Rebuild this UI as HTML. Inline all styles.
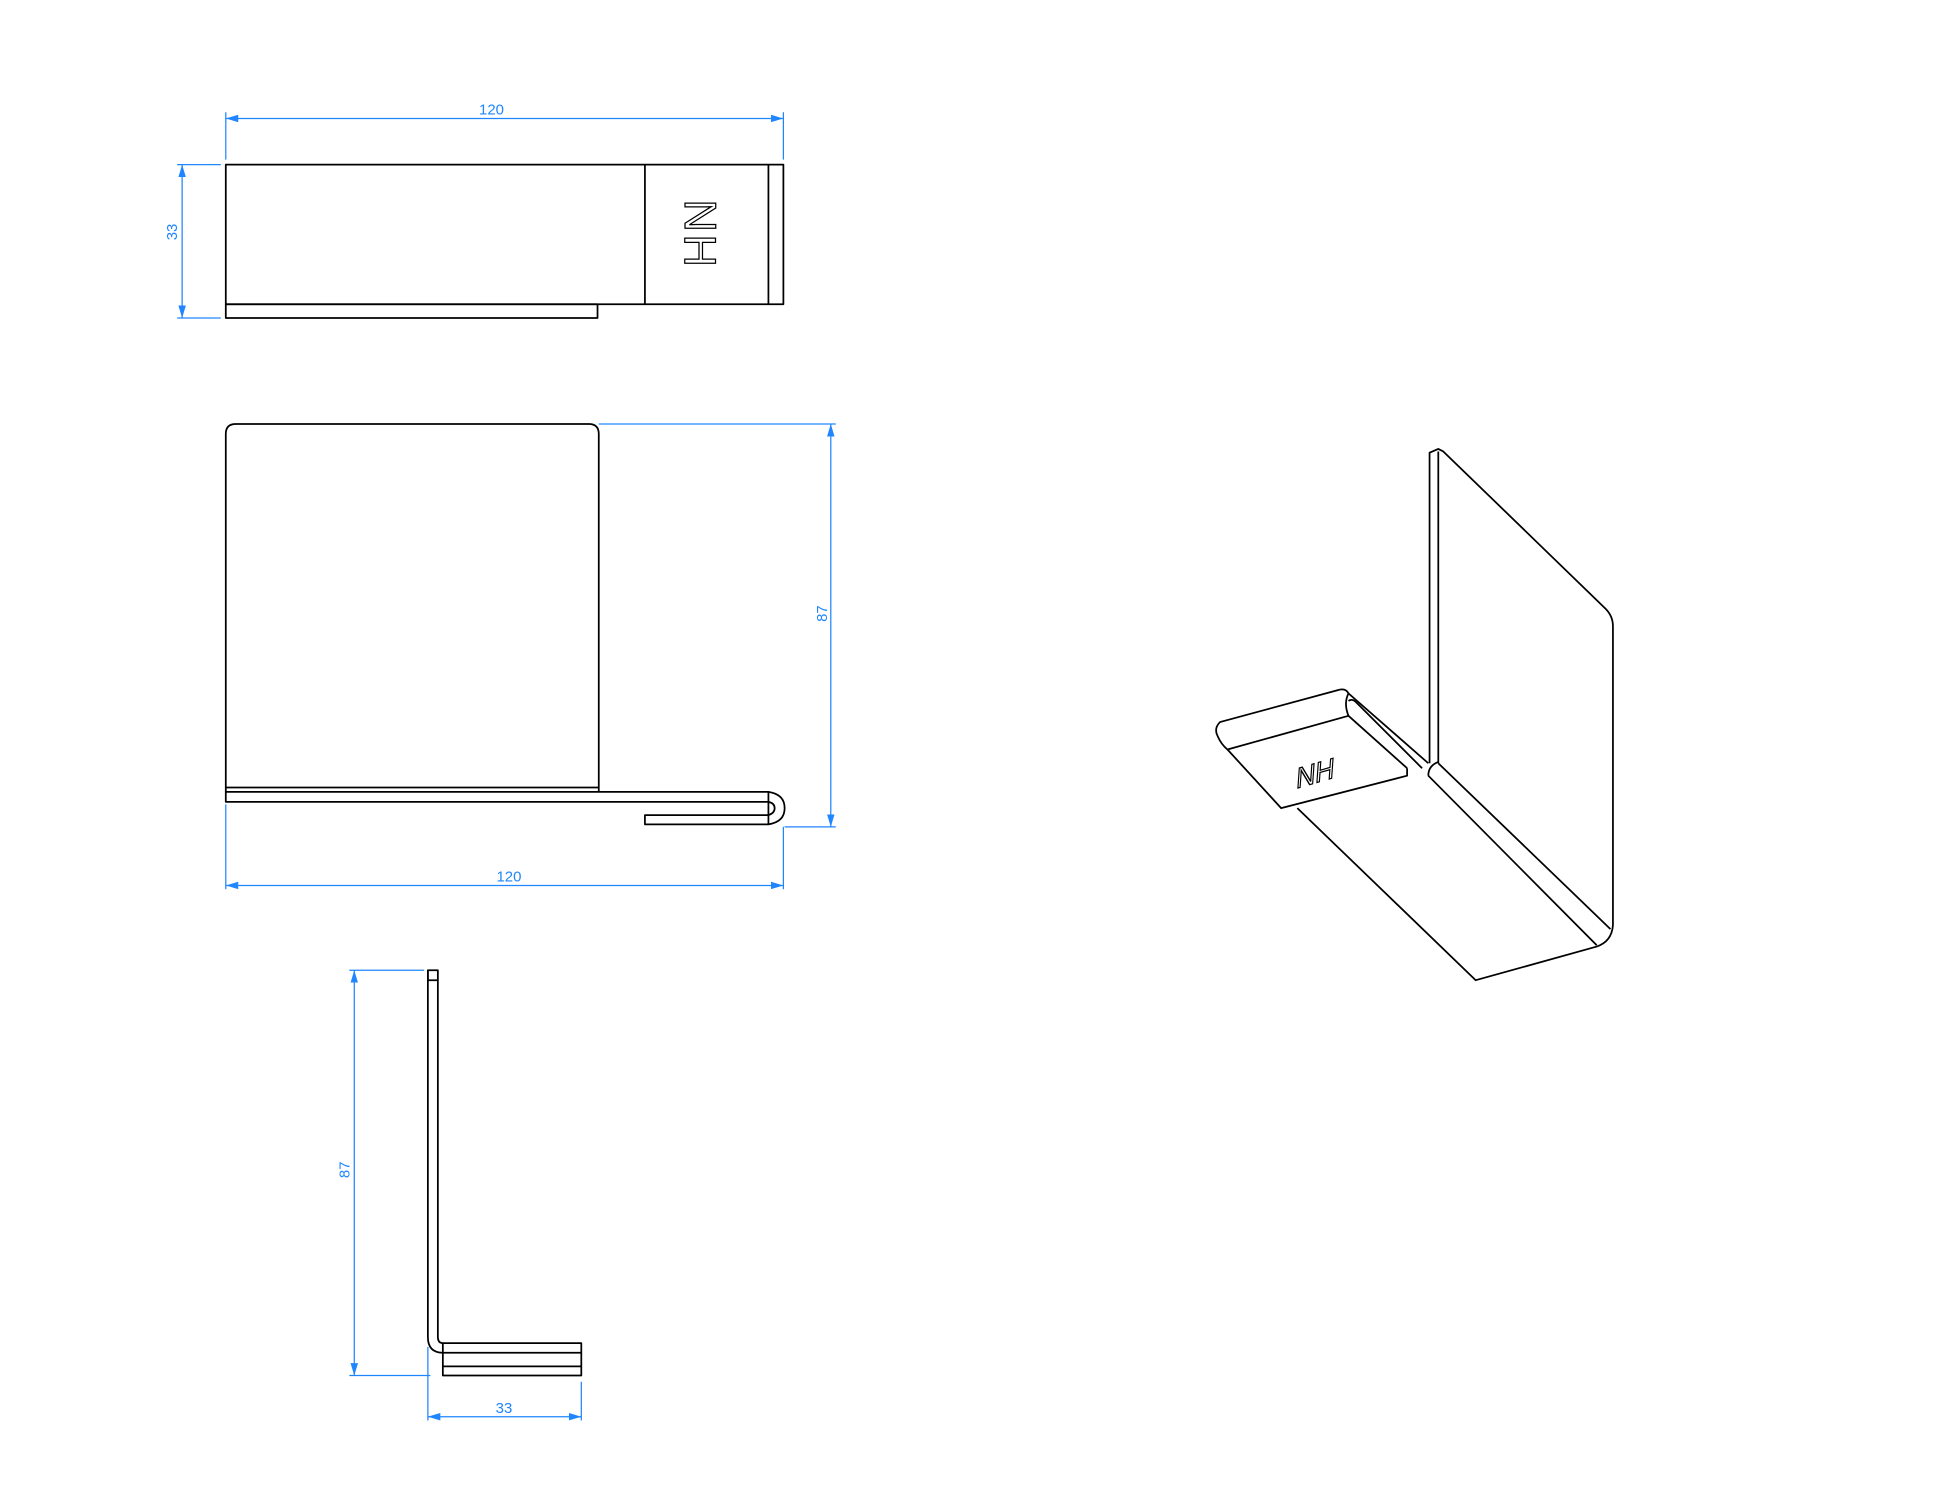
<!DOCTYPE html>
<html><head><meta charset="utf-8"><style>html,body{margin:0;padding:0;background:#fff}svg{display:block}</style></head>
<body>
<svg width="1946" height="1504" viewBox="0 0 1560 1206" preserveAspectRatio="none" xmlns="http://www.w3.org/2000/svg">
<defs>
<marker id="a" viewBox="0 0 10 6" refX="10" refY="3" markerWidth="10" markerHeight="6" markerUnits="userSpaceOnUse" orient="auto-start-reverse"><path d="M0,0 L10,3 L0,6 z" fill="#1f86ff"/></marker>
</defs>
<g fill="none" stroke="#000" stroke-width="1.4" stroke-linejoin="round">
<!-- top view -->
<rect x="181" y="132" width="447" height="112"/>
<line x1="517" y1="132" x2="517" y2="244"/>
<line x1="616" y1="132" x2="616" y2="244"/>
<rect x="181" y="244" width="298" height="11"/>
<!-- front view -->
<path d="M181,635 L181,348 Q181,340 189,340 L472,340 Q480,340 480,348 L480,635"/>
<line x1="181" y1="631.5" x2="480" y2="631.5"/>
<path d="M181,635 L616,635 Q629,637 629,648 Q629,659 616,661 L517,661 L517,653.6 L616,653.6 Q621,652 621,648 Q621,644 616,643 L181,643 Z"/>
<line x1="616" y1="635" x2="616" y2="661"/>
<!-- side view -->
<rect x="343" y="778" width="8" height="8"/>
<path d="M343,778 L343,1072 Q343,1084.7 355,1084.7"/>
<path d="M351,786 L351,1072 Q351,1077 355,1077"/>
<rect x="355" y="1077" width="111" height="26"/>
<line x1="355" y1="1084.7" x2="466" y2="1084.7"/>
<line x1="355" y1="1095.6" x2="466" y2="1095.6"/>
<!-- iso view -->
<path d="M1146,612 L1146,363 L1153,360 L1157,362 L1287,488 Q1293,494 1293,502 L1293,742 Q1292,755 1280,759 L1183,786 L1040,648"/>
<line x1="1153" y1="362" x2="1153" y2="612"/>
<path d="M1145,622 Q1145,614 1153,611"/>
<line x1="1145" y1="622" x2="1280" y2="758"/>
<line x1="1153" y1="612" x2="1291" y2="745"/>
<path d="M1074,553 L978,579 Q973,584 976,590 Q979,597 984,601 L1027,648 L1128,622 L1128,616"/>
<line x1="984" y1="601" x2="1081" y2="574"/>
<path d="M1074,553 Q1079,552 1081,556 Q1077,564 1081,574"/>
<line x1="1081" y1="556" x2="1145" y2="612"/>
<path d="M1081,562 Q1084,560 1087,563 L1140,616"/>
<line x1="1081" y1="574" x2="1128" y2="616"/>
</g>
<g font-family="Liberation Sans, sans-serif" fill="#fff" stroke="#000" stroke-width="1">
<text x="0" y="0" font-size="36" text-anchor="middle" transform="translate(549,188) rotate(90)" letter-spacing="2">NH</text>
<text x="0" y="0" font-size="22" text-anchor="middle" transform="translate(1054,628) rotate(-16) skewX(-20)">NH</text>
</g>
<g stroke="#1f86ff" stroke-width="1" fill="none">
<line x1="181" y1="90" x2="181" y2="128"/><line x1="628" y1="90" x2="628" y2="128"/>
<line x1="181" y1="95" x2="628" y2="95" marker-start="url(#a)" marker-end="url(#a)"/>
<line x1="142" y1="132" x2="177" y2="132"/><line x1="142" y1="255" x2="177" y2="255"/>
<line x1="146" y1="132" x2="146" y2="255" marker-start="url(#a)" marker-end="url(#a)"/>
<line x1="480" y1="340" x2="670" y2="340"/><line x1="629" y1="663" x2="670" y2="663"/>
<line x1="666" y1="340" x2="666" y2="663" marker-start="url(#a)" marker-end="url(#a)"/>
<line x1="181" y1="645" x2="181" y2="713"/><line x1="628" y1="663" x2="628" y2="713"/>
<line x1="181" y1="710" x2="628" y2="710" marker-start="url(#a)" marker-end="url(#a)"/>
<line x1="280" y1="778" x2="340" y2="778"/><line x1="280" y1="1103" x2="345" y2="1103"/>
<line x1="284" y1="778" x2="284" y2="1103" marker-start="url(#a)" marker-end="url(#a)"/>
<line x1="343" y1="1080" x2="343" y2="1139"/><line x1="466" y1="1108" x2="466" y2="1139"/>
<line x1="343" y1="1136" x2="466" y2="1136" marker-start="url(#a)" marker-end="url(#a)"/>
</g>
<g font-family="Liberation Sans, sans-serif" font-size="12" fill="#1f86ff" text-anchor="middle">
<text x="394" y="92">120</text>
<text transform="translate(142,186) rotate(-90)">33</text>
<text transform="translate(663,492) rotate(-90)">87</text>
<text x="408" y="707">120</text>
<text transform="translate(280,938) rotate(-90)">87</text>
<text x="404" y="1133">33</text>
</g>
</svg>
</body></html>
